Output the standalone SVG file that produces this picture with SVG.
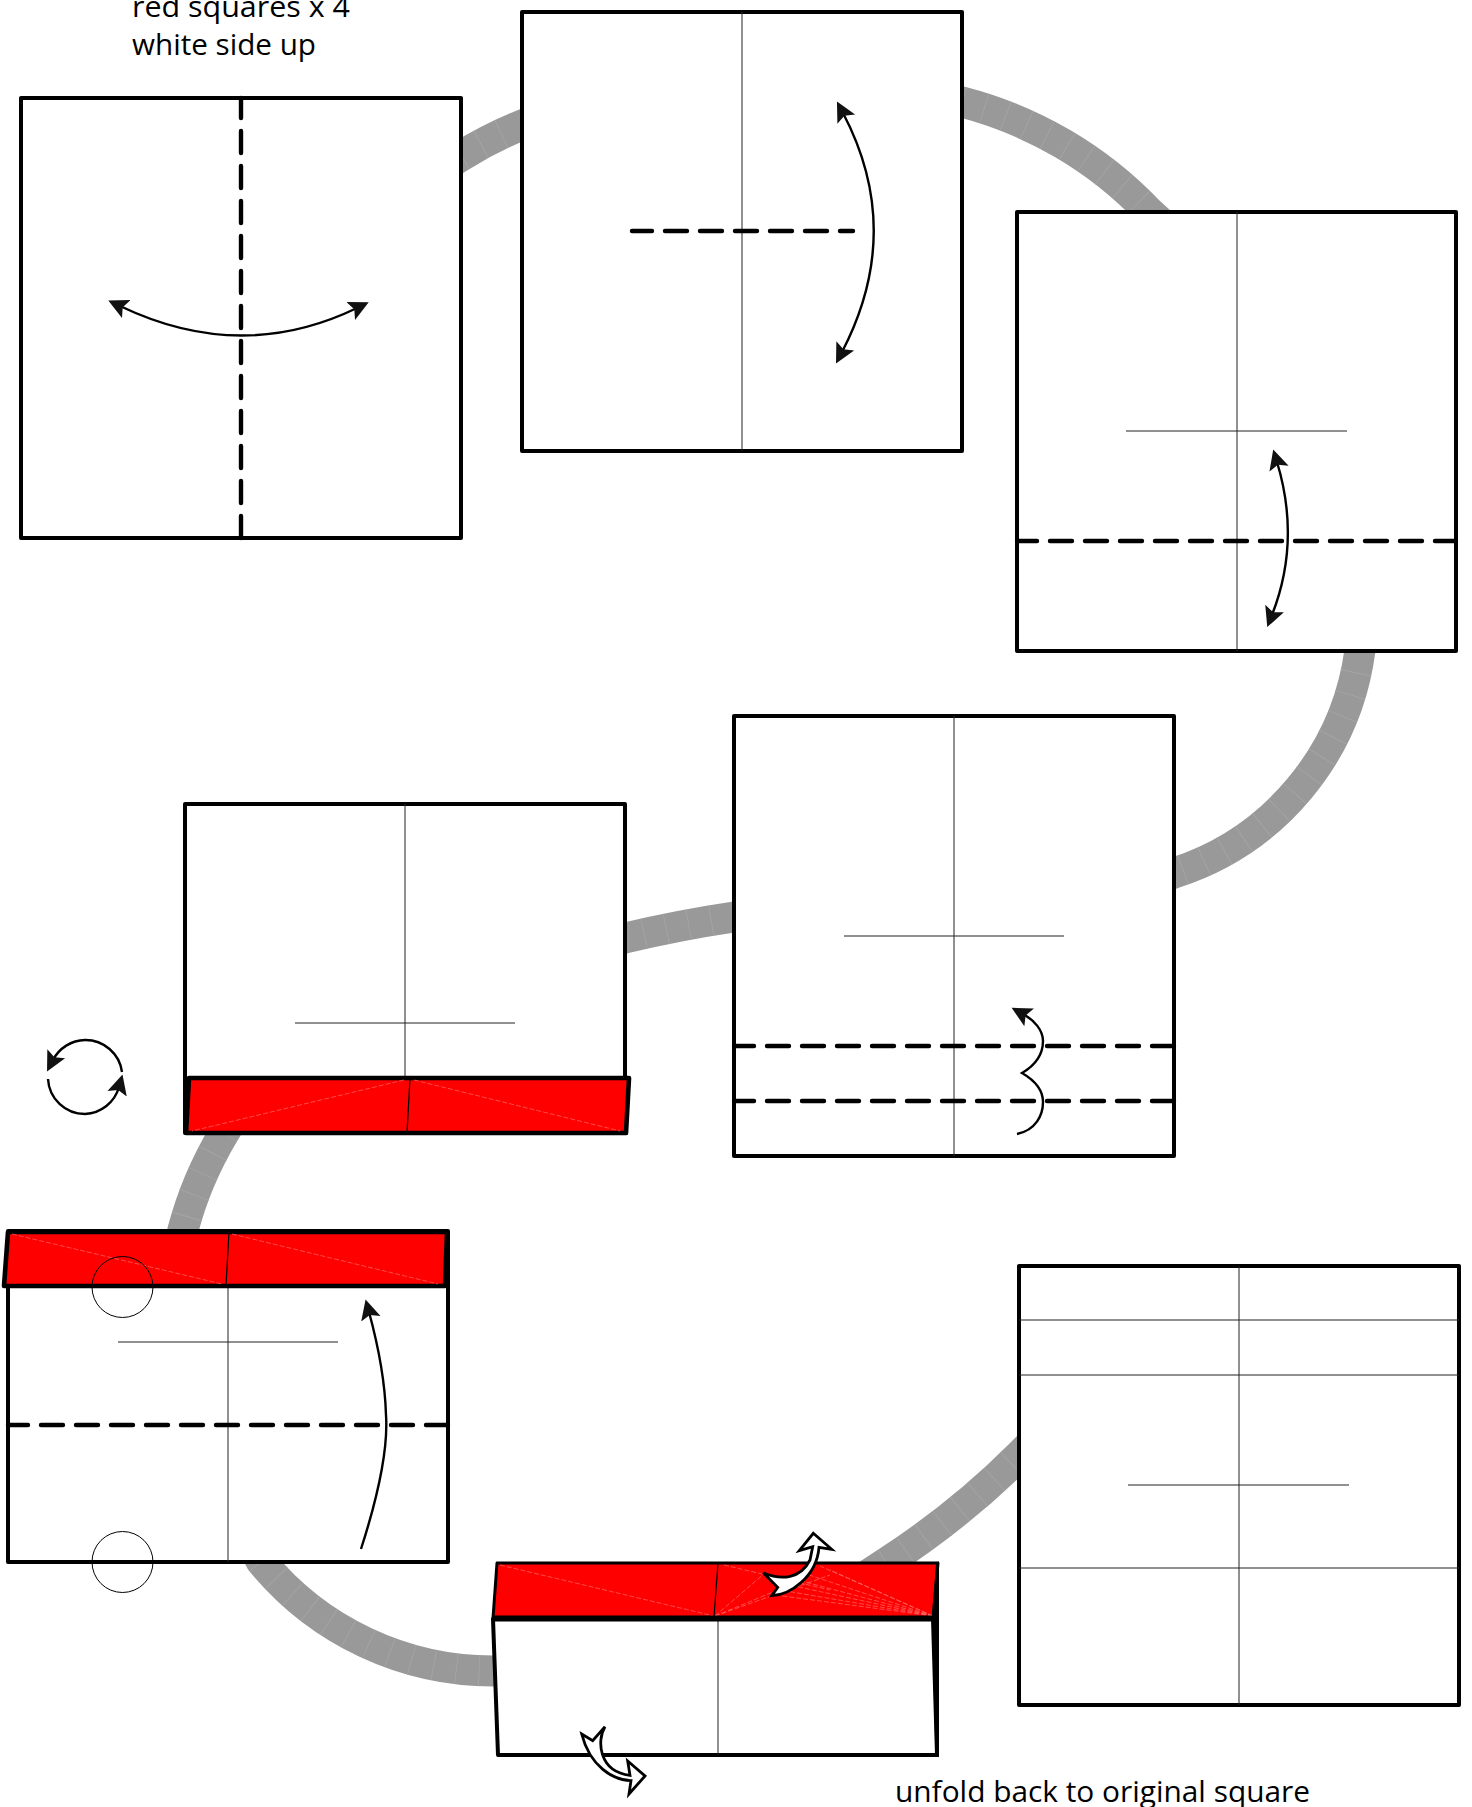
<svg xmlns="http://www.w3.org/2000/svg" width="1472" height="1807" viewBox="0 0 1472 1807">
<style>
.band{fill:none;stroke:#999;stroke-width:31}
.mesh{fill:none;stroke:#a6a6a6;stroke-width:31;stroke-dasharray:.8 22}
.sq{fill:#fff;stroke:#000;stroke-width:4;stroke-linejoin:round}
.crease{fill:none;stroke:#222;stroke-width:1}
.dash{fill:none;stroke:#000;stroke-width:4.4;stroke-linecap:round;stroke-dasharray:22 13;stroke-dashoffset:2}
.fold{fill:none;stroke:#000;stroke-width:2.4;marker-end:url(#head)}
.both{marker-start:url(#head)}
.red{fill:#f00;stroke:#000;stroke-width:4.6;stroke-linejoin:round}
.mark{fill:none;stroke:#000;stroke-width:1}
.pale{fill:none;stroke:#ff6a6a;stroke-width:.7;stroke-dasharray:5 2}
.push{fill:#fff;stroke:#000;stroke-width:2.8;stroke-linejoin:miter}
text{font-family:"Open Sans","Noto Sans",sans-serif;font-size:30px;fill:#000}
</style>
<defs>
<marker id="head" markerUnits="userSpaceOnUse" markerWidth="22" markerHeight="26" viewBox="0 0 22 26" refX="7" refY="13" orient="auto-start-reverse">
<path d="M20 13L0 3L4 13L0 23Z" fill="#111"/>
</marker>
</defs>

<g id="connectors">
<path class="band" d="M445 166L461 156Q490 138 522 125L540 118"/>
<path class="band" d="M945 97L962 102A396 396 0 0 1 1149 212L1170 231"/>
<path class="band" d="M1363 630L1360 650A271 271 0 0 1 1174 873L1150 883"/>
<path class="band" d="M750 915L734 917Q680 925 625 938L610 942"/>
<path class="band" d="M232 1120L224 1133Q196 1180 183 1230L178 1250"/>
<path class="band" d="M252 1544L261 1561A300 300 0 0 0 495 1671L515 1674"/>
<path class="band" d="M860 1580L886 1563Q960 1515 1019 1456L1035 1440"/>
<path class="mesh" d="M461 156Q490 138 522 125"/>
<path class="mesh" d="M962 102A396 396 0 0 1 1149 212"/>
<path class="mesh" d="M1360 650A271 271 0 0 1 1174 873"/>
<path class="mesh" d="M734 917Q680 925 625 938"/>
<path class="mesh" d="M224 1133Q196 1180 183 1230"/>
<path class="mesh" d="M261 1561A300 300 0 0 0 495 1671"/>
<path class="mesh" d="M886 1563Q960 1515 1019 1456"/>
</g>

<g id="caption-top">
<text x="132" y="17" textLength="218" lengthAdjust="spacingAndGlyphs">red squares x 4</text>
<text x="132" y="55" textLength="184" lengthAdjust="spacingAndGlyphs">white side up</text>
</g>

<g id="step1">
<rect class="sq" x="21" y="98" width="440" height="440"/>
<path class="dash" d="M241 98V538"/>
<path class="fold both" d="M120 306Q241 364 357 308"/>
</g>

<g id="step2">
<rect class="sq" x="522" y="12" width="440" height="439"/>
<path class="crease" d="M742 12V451"/>
<path class="dash" d="M632 231H853"/>
<path class="fold both" d="M843 113Q905 231 842 352"/>
</g>

<g id="step3">
<rect class="sq" x="1017" y="212" width="439" height="439"/>
<path class="crease" d="M1237 212V651M1126 431H1347"/>
<path class="dash" d="M1017 541H1456"/>
<path class="fold both" d="M1277 462Q1301 541 1272 615"/>
</g>

<g id="step4">
<rect class="sq" x="734" y="716" width="440" height="440"/>
<path class="crease" d="M954 716V1156M844 936H1064"/>
<path class="dash" d="M734 1046H1174M734 1101H1174"/>
<path class="fold" d="M1017 1134C1036 1130 1043 1115 1043 1102C1043 1090 1034 1080 1022 1073C1034 1066 1043 1056 1043 1041C1043 1030 1034 1020 1023 1014"/>
</g>

<g id="step5">
<rect class="sq" x="185" y="804" width="440" height="329"/>
<path class="crease" d="M405 804V1077M295 1023H515"/>
<polygon class="red" points="189,1078 629,1078 626,1133 186,1133"/>
<path class="pale" d="M404 1080L192 1131M414 1080L620 1131"/>
<path d="M410 1078L407 1133" fill="none" stroke="#000" stroke-width="1.2"/>
</g>

<g id="turn-over">
<path class="fold" d="M122 1072A37 37 0 0 0 85 1040A37 37 0 0 0 53 1060"/>
<path class="fold" d="M48 1079A37 37 0 0 0 85 1114A37 37 0 0 0 119 1087"/>
</g>

<g id="step6">
<rect class="sq" x="8" y="1231" width="440" height="331"/>
<path class="crease" d="M228 1286V1562M118 1342H338"/>
<path class="dash" d="M8 1425H448"/>
<polygon class="red" points="8,1232 447,1232 445,1286 4,1286"/>
<path class="pale" d="M12 1234L222 1284M232 1234L438 1284"/>
<path d="M229 1232L226 1286" fill="none" stroke="#000" stroke-width="1.2"/>
<path d="M449 1232V1286H444L447 1232Z"/>
<path class="fold" d="M361 1549C380 1490 388 1445 386 1415C385 1380 378 1345 369 1312"/>
<circle class="mark" cx="122.500" cy="1287" r="30.500"/>
<circle class="mark" cx="122.500" cy="1562" r="30.500"/>
</g>

<g id="step7">
<polygon class="sq" points="493,1619 933,1619 937,1755 498,1755"/>
<path class="crease" d="M718 1620V1755"/>
<polygon points="497,1563 938,1563 933,1618 493,1618" fill="#f00" stroke="#000" stroke-width="3" stroke-linejoin="round"/>
<path class="pale" d="M500 1565L714 1616M724 1565L830 1590M715 1616L765 1573M715 1616L790 1585M715 1616L830 1575"/>
<path class="pale" d="M933 1616L820 1566M933 1616L830 1570M933 1616L800 1572M933 1616L790 1578M933 1616L785 1584M933 1616L780 1590M933 1616L775 1595"/>
<path d="M718 1563L714 1617" fill="none" stroke="#000" stroke-width="1.2"/>
<path d="M493 1618.500H933" fill="none" stroke="#000" stroke-width="6"/>
<polygon points="939,1561 939,1757 935.500,1757 932,1620 932,1618 936,1564"/>
<path class="push" d="M813.300 1533.300L831.700 1549.300L819 1547.300C816.700 1576.700 790 1595 771.700 1595.700L777.700 1587.300L763.300 1572.700C780 1580 800 1580 810 1560L812.700 1546.700L799.300 1550.700Z"/>
<path class="push" d="M645 1776L629 1794L631 1780.700C613.300 1780 590 1766.700 581.700 1734L592.700 1740.700L605 1726.700C596.700 1740 598.300 1771.700 630 1775.300L627.700 1761Z"/>
</g>

<g id="step8">
<rect class="sq" x="1019" y="1266" width="440" height="439"/>
<path class="crease" d="M1239 1266V1705M1019 1320H1459M1019 1375H1459M1019 1568H1459M1128 1485H1349"/>
</g>

<g id="caption-bottom">
<text x="895" y="1802" textLength="415" lengthAdjust="spacingAndGlyphs">unfold back to original square</text>
</g>
</svg>
